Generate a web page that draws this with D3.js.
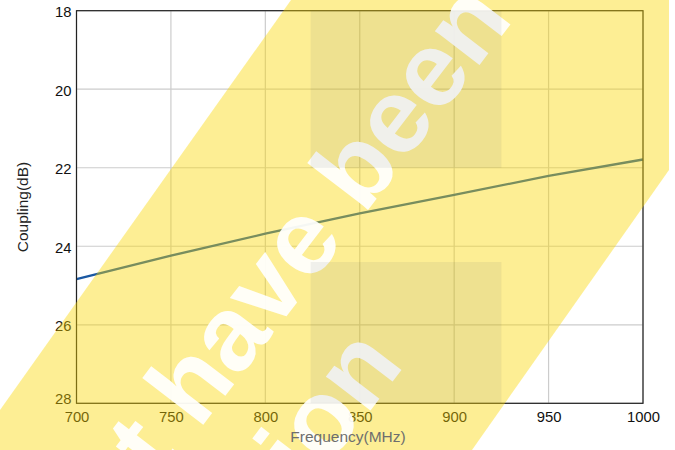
<!DOCTYPE html>
<html>
<head>
<meta charset="utf-8">
<script src="https://cdn.jsdelivr.net/npm/d3@7"></script>
<style>
  html, body { margin: 0; padding: 0; background: #fff; }
  svg { display: block; font-family: "Liberation Sans", Arial, Helvetica, sans-serif; }
</style>
</head>
<body>
<svg id="chart" width="675" height="450"></svg>
<script>
// ---- data ----
const frequencies = [700, 750, 800, 850, 900, 950, 1000];
const coupling = [24.84, 24.24, 23.68, 23.16, 22.69, 22.21, 21.79];
const xTicks = [700, 750, 800, 850, 900, 950, 1000];
const yTicks = [18, 20, 22, 24, 26, 28];
const shadeX = [824, 925];
const shadeBands = [[18, 22], [24.4, 28]];
const watermarkLine1 = "have been";
const watermarkPrefix = "must";
const watermarkLine2 = "tion";

// ---- layout ----
const W = 675, H = 450;
const margin = { left: 76.5, top: 10.7, right: 32, bottom: 46.7 };
const svg = d3.select("#chart");

const x = d3.scaleLinear().domain([700, 1000]).range([margin.left, W - margin.right]);
const y = d3.scaleLinear().domain([18, 28]).range([margin.top, H - margin.bottom]);

// grid
const grid = svg.append("g");
grid.selectAll("line.v").data(xTicks).join("line")
  .attr("x1", d => x(d)).attr("x2", d => x(d))
  .attr("y1", y(18)).attr("y2", y(28))
  .attr("stroke", "#cccccc").attr("stroke-width", 1.2);
grid.selectAll("line.h").data(yTicks).join("line")
  .attr("y1", d => y(d)).attr("y2", d => y(d))
  .attr("x1", x(700)).attr("x2", x(1000))
  .attr("stroke", "#cccccc").attr("stroke-width", 1.2);

// line
const lineGen = d3.line().x((d, i) => x(frequencies[i])).y(d => y(d));
svg.append("path").datum(coupling)
  .attr("d", lineGen)
  .attr("fill", "none")
  .attr("stroke", "#1a58a2")
  .attr("stroke-width", 2.3);

// frame
svg.append("rect")
  .attr("x", x(700)).attr("y", y(18))
  .attr("width", x(1000) - x(700)).attr("height", y(28) - y(18))
  .attr("fill", "none").attr("stroke", "#222").attr("stroke-width", 1.2);

// axes (labels only)
const xAxis = d3.axisBottom(x).tickValues(xTicks).tickSize(0).tickPadding(8).tickFormat(d3.format("d"));
const gx = svg.append("g").attr("transform", `translate(0,${y(28)})`).call(xAxis);
gx.select(".domain").remove();
gx.selectAll("text").attr("font-size", 14.8).attr("fill", "#111")
  .attr("font-family", "Liberation Sans, Arial, sans-serif");

const yAxis = d3.axisLeft(y).tickValues(yTicks).tickSize(0).tickPadding(5).tickFormat(d3.format("d"));
const gy = svg.append("g").attr("transform", `translate(${x(700)},0)`).call(yAxis);
gy.select(".domain").remove();
gy.selectAll("text").attr("font-size", 14.8).attr("fill", "#111")
  .attr("font-family", "Liberation Sans, Arial, sans-serif")
  .attr("dy", d => d === 28 ? "-0.02em" : "0.4em");

// y axis title
svg.append("text")
  .attr("transform", `translate(27.5,${(y(18) + y(28)) / 2}) rotate(-90)`)
  .attr("text-anchor", "middle")
  .attr("font-size", 15.5).attr("fill", "#222")
  .text("Coupling(dB)");

// ---- watermark overlay ----
svg.append("polygon")
  .attr("points", [[291, 0], [669, 0], [669, 170], [472, 450], [0, 450], [0, 410]].map(p => p.join(",")).join(" "))
  .attr("fill", "rgb(250,215,0)").attr("fill-opacity", 0.42);

const wm = svg.append("g")
  .attr("transform", "translate(198.7,430.6) rotate(-52.5)")
  .attr("font-family", "Liberation Sans, Arial, sans-serif")
  .attr("font-weight", "bold")
  .attr("font-size", 106)
  .attr("fill", "#ffffff").attr("fill-opacity", 0.93);
wm.append("text").attr("x", 0).attr("y", 0).text(watermarkLine1);
wm.append("text").attr("x", -29).attr("y", 0).attr("text-anchor", "end").text(watermarkPrefix);
wm.append("text").attr("x", 178).attr("y", 124).attr("text-anchor", "end").text(watermarkLine2);

// gray shaded blocks
svg.selectAll("rect.shade").data(shadeBands).join("rect")
  .attr("x", x(shadeX[0])).attr("width", x(shadeX[1]) - x(shadeX[0]))
  .attr("y", d => y(d[0])).attr("height", d => y(d[1]) - y(d[0]))
  .attr("fill", "rgb(50,70,90)").attr("fill-opacity", 0.075);

// x axis title (visible through the watermark, as in the reference)
svg.append("text")
  .attr("x", 348).attr("y", 441.5)
  .attr("text-anchor", "middle")
  .attr("font-size", 15.5).attr("fill", "#6e6e6e")
  .text("Frequency(MHz)");
</script>
</body>
</html>
